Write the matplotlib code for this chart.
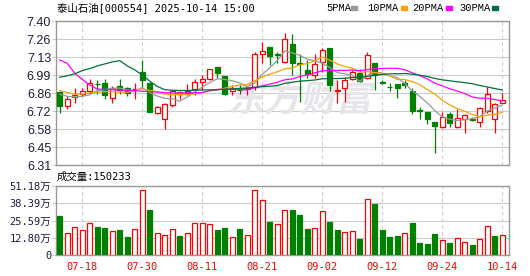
import matplotlib
matplotlib.use('Agg')
import matplotlib.pyplot as plt
import numpy as np
import pandas as pd
from matplotlib.patches import Rectangle, PathPatch
from matplotlib.textpath import TextPath
from matplotlib.font_manager import FontProperties
from matplotlib.transforms import Affine2D, IdentityTransform

# daily candles 2025-07-15 .. 2025-10-14
opens = [6.865, 6.759, 6.822, 6.847, 6.873, 6.925, 6.928, 6.815, 6.908, 6.89,
         6.885, 7.011, 6.928, 6.70, 6.658, 6.764, 6.845, 6.853, 6.885, 6.935,
         6.963, 7.049, 6.984, 6.87, 6.88, 6.888, 6.903, 7.15, 7.20, 7.148,
         7.092, 7.226, 7.085, 7.029, 6.991, 7.092, 7.193, 6.873, 6.895, 6.96,
         7.009, 6.966, 7.08, 6.935, 6.903, 6.923, 6.933, 6.87, 6.724, 6.709,
         6.633, 6.595, 6.694, 6.60, 6.656, 6.656, 6.633, 6.721, 6.656, 6.782]
highs = [6.873, 6.832, 6.89, 6.89, 6.958, 6.95, 6.958, 6.908, 6.958, 6.903,
         6.933, 7.105, 6.94, 6.757, 6.777, 6.878, 6.872, 6.923, 6.958, 6.99,
         7.04, 7.049, 6.984, 6.915, 6.915, 6.903, 7.168, 7.244, 7.20, 7.168,
         7.307, 7.30, 7.153, 7.105, 7.153, 7.193, 7.193, 6.953, 6.978, 7.029,
         7.04, 7.168, 7.08, 6.953, 6.933, 6.923, 6.953, 6.89, 6.747, 6.709,
         6.633, 6.714, 6.714, 6.732, 6.694, 6.676, 6.747, 6.898, 6.777, 6.853]
lows = [6.70, 6.731, 6.78, 6.832, 6.847, 6.847, 6.81, 6.78, 6.847, 6.832,
        6.81, 6.89, 6.713, 6.696, 6.58, 6.747, 6.807, 6.84, 6.84, 6.878,
        6.95, 6.966, 6.84, 6.84, 6.85, 6.84, 6.878, 7.08, 7.07, 7.08,
        7.08, 6.99, 6.79, 6.966, 6.966, 7.016, 6.87, 6.777, 6.79, 6.95,
        6.94, 6.958, 6.88, 6.92, 6.87, 6.82, 6.89, 6.693, 6.658, 6.62,
        6.40, 6.592, 6.595, 6.588, 6.55, 6.64, 6.60, 6.70, 6.55, 6.78]
closes = [6.759, 6.807, 6.84, 6.873, 6.928, 6.92, 6.84, 6.895, 6.878, 6.858,
          6.888, 6.953, 6.713, 6.747, 6.772, 6.872, 6.86, 6.872, 6.938, 6.958,
          7.04, 7.004, 6.847, 6.89, 6.875, 6.895, 7.148, 7.173, 7.138, 7.145,
          7.261, 7.08, 7.072, 6.999, 7.075, 7.18, 6.915, 6.878, 6.953, 7.016,
          6.948, 7.143, 6.991, 6.933, 6.90, 6.895, 6.913, 6.72, 6.718, 6.655,
          6.605, 6.676, 6.63, 6.664, 6.689, 6.653, 6.739, 6.847, 6.772, 6.802]
prev_close = 6.80
# volume, 万手
volumes = [28.6, 16.3, 20.8, 18.6, 23.8, 21.1, 20.3, 17.8, 18.6, 13.5,
           19.3, 47.9, 33.4, 16.3, 14.8, 19.3, 14.3, 16.3, 23.8, 23.8,
           23.1, 18.8, 20.3, 13.5, 19.6, 14.8, 47.9, 40.6, 24.8, 23.3,
           33.1, 33.1, 29.4, 19.6, 20.3, 32.4, 24.8, 18.8, 17.3, 17.8,
           12.0, 41.4, 37.6, 18.8, 13.5, 14.3, 16.3, 24.1, 9.0, 8.3,
           15.8, 11.0, 9.0, 12.5, 9.5, 7.5, 12.0, 21.6, 14.3, 15.02]

# moving-average values before the window fills
ma5_head = [6.845, 6.83, 6.825, 6.83]
ma10_head = [6.873, 6.86, 6.847, 6.847, 6.855, 6.862, 6.865, 6.865, 6.862]
ma20_head = [7.105, 7.08, 7.005, 6.958, 6.915, 6.885, 6.883, 6.88, 6.878, 6.875,
             6.872, 6.868, 6.866, 6.862, 6.858, 6.855, 6.855, 6.856, 6.857]
ma30_head = [6.974, 6.985, 7.0, 7.025, 7.04, 7.06, 7.075, 7.09, 7.1, 7.06,
             7.03, 6.99, 6.945, 6.905, 6.88, 6.876, 6.874, 6.874, 6.876, 6.878,
             6.879, 6.88, 6.883, 6.886, 6.889, 6.893, 6.898, 6.903, 6.906]

price_ticks = ['6.31', '6.45', '6.58', '6.72', '6.86', '6.99', '7.13', '7.26', '7.40']
vol_ticks = ['0', '12.80万', '25.59万', '38.39万', '51.18万']
vol_max = 51.18
title = '泰山石油[000554] 2025-10-14 15:00'
vol_title = '成交量:150233'

dates = pd.bdate_range('2025-07-15', '2025-10-14')
dates = dates[(dates < '2025-10-01') | (dates > '2025-10-08')]

RED = '#ff0000'
GREEN = '#008000'
GRID = '#cccccc'
FRAME = '#999999'
LABEL = '#1c1c3c'
MONO = ['DejaVu Sans Mono', 'Noto Sans CJK SC']

o = np.array(opens); h = np.array(highs); l = np.array(lows); c = np.array(closes)
v = np.array(volumes)
x = np.arange(len(c))

cs = pd.Series(c)
def ma(n, head):
    m = cs.rolling(n).mean().to_numpy()
    m[:n - 1] = head
    return m

W, H = 530, 276
fig = plt.figure(figsize=(W / 100, H / 100), dpi=100)
ax = fig.add_axes([56 / W, 1 - 165 / H, 453 / W, 144 / H])
axv = fig.add_axes([56 / W, 1 - 255 / H, 453 / W, 69 / H])

up = c >= o
col = np.where(up, RED, GREEN)
ax.vlines(x, l, h, colors=col, lw=0.9, zorder=2)
ax.bar(x, np.abs(c - o), bottom=np.minimum(o, c), width=0.66,
       facecolor=np.where(up, 'white', GREEN), edgecolor=col, lw=0.9, zorder=3)

for n, head, colr in [(5, ma5_head, '#999999'), (10, ma10_head, '#f0a30a'),
                      (20, ma20_head, '#ff00ff'), (30, ma30_head, '#00703c')]:
    ax.plot(x, ma(n, head), color=colr, lw=0.9, zorder=4)

# volume colour follows change vs previous close
vup = c >= np.concatenate([[prev_close], c[:-1]])
vcol = np.where(vup, RED, GREEN)
axv.bar(x, v, width=0.62, facecolor=np.where(vup, 'white', GREEN),
        edgecolor=vcol, lw=0.9, zorder=3)

tick_idx = x[3::8]
for a in (ax, axv):
    a.set_xlim(-0.5, 59.9)
    a.set_xticks(tick_idx)
    a.set_axisbelow(True)
    a.grid(axis='y', color=GRID, lw=0.8)
    a.grid(axis='x', color=GRID, lw=0.8, ls=(0, (3, 3)))
    for s in a.spines.values():
        s.set_color(FRAME)
        s.set_linewidth(1.0)
    a.tick_params(axis='y', length=3, color=GRID, pad=0.5, labelcolor=LABEL)
    a.tick_params(axis='x', length=0)

ax.set_ylim(6.31, 7.40)
ax.set_yticks(np.linspace(6.31, 7.40, len(price_ticks)))
ax.set_yticklabels(price_ticks, fontfamily='Liberation Sans', fontsize=9)
ax.tick_params(axis='x', labelbottom=False)

axv.set_ylim(0, vol_max)
axv.set_yticks(np.linspace(0, vol_max, len(vol_ticks)))
axv.set_yticklabels(vol_ticks, fontfamily=MONO, fontsize=7.5)
axv.set_xticklabels(dates[3::8].strftime('%m-%d'), fontfamily=MONO,
                    fontsize=7.5, color=RED)
axv.tick_params(axis='x', pad=5)

# watermark
fp = FontProperties(family='Noto Sans CJK SC', weight='bold')
tp = TextPath((0, 0), '东方财富', size=36, prop=fp)
tr = Affine2D().skew_deg(12, 0).translate(228, H - 111) + IdentityTransform()
ax.add_patch(PathPatch(tp, transform=tr, facecolor='#e6e6ea', edgecolor='none',
                       zorder=1, clip_on=False))

def fx(px):
    return px / W
def fy(py):
    return 1 - py / H

fig.text(fx(57), fy(8), title, fontfamily=MONO, fontsize=7.5, va='center', color='black')
fig.text(fx(57), fy(177), vol_title, fontfamily=MONO, fontsize=7.5, va='center', color='black')

legend = [('5PMA', '#999999', 326, 351), ('10PMA', '#f0a30a', 367, 401),
          ('20PMA', '#ff00ff', 412, 446), ('30PMA', '#00703c', 459, 492)]
for txt, colr, tx, sx in legend:
    fig.text(fx(tx), fy(8), txt, fontfamily='Liberation Mono', fontsize=7.5,
             va='center', color='black')
    fig.patches.append(Rectangle((fx(sx), fy(10)), 6 / W, 4 / H, color=colr,
                                 transform=fig.transFigure, figure=fig))

fig.savefig('out.png', dpi=100)
